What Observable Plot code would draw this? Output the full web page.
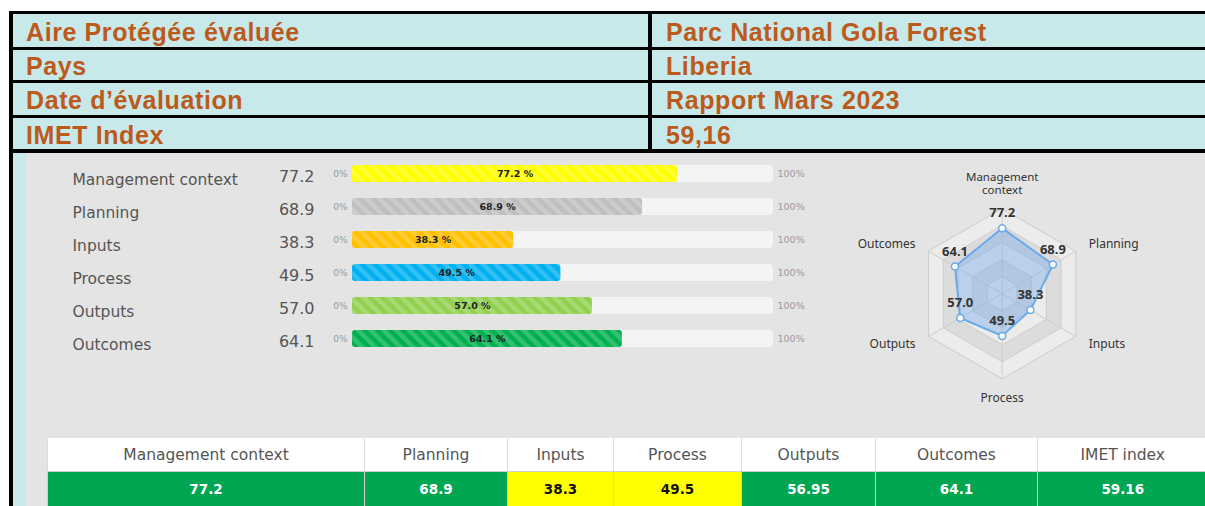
<!DOCTYPE html>
<html>
<head>
<meta charset="utf-8">
<script src="https://cdn.jsdelivr.net/npm/d3@7"></script>
<script src="https://cdn.jsdelivr.net/npm/@observablehq/plot@0.6"></script>
<style>
  html, body { margin: 0; padding: 0; background: #fff; }
  #page { position: relative; width: 1205px; height: 506px; overflow: hidden; background: #fff; }
  .abs { position: absolute; }
  .hcell { position: absolute; background: #c8e9ea; color: #bc5a1c; font-family: "Liberation Sans", Arial, sans-serif;
           font-weight: bold; font-size: 25px; line-height: 1;
           letter-spacing: 0.6px; display: flex; align-items: center; box-sizing: border-box; padding-top: 3px; white-space: nowrap; }
  #scoreTable { position: absolute; left: 47px; top: 438px; border-collapse: collapse; table-layout: fixed;
                font-family: "DejaVu Sans", sans-serif; }
  #scoreTable th { background: #fff; color: #555; font-weight: normal; font-size: 15.5px; height: 33px; padding: 0;
                   border-left: 1px solid #dcdcdc; border-bottom: 1px solid #cfcfcf; text-align: center; }
  #scoreTable td { font-weight: bold; font-size: 13.5px; height: 34px; padding: 0; text-align: center;
                   border-left: 1px solid #d0d0d0; }
</style>
</head>
<body>
<div id="page"></div>
<script>
// ---------- data ----------
const headerLabels = ["Aire Protégée évaluée", "Pays", "Date d’évaluation", "IMET Index"];
const headerValues = ["Parc National Gola Forest", "Liberia", "Rapport Mars 2023", "59,16"];
const categories = ["Management context", "Planning", "Inputs", "Process", "Outputs", "Outcomes"];
const scores = [77.2, 68.9, 38.3, 49.5, 57.0, 64.1];
const barColors = ["#ffff00", "#bfbfbf", "#ffc000", "#00b0f0", "#92d050", "#00b050"];
const radarLevels = [100, 80, 60, 40, 20];
const tableHeaders = ["Management context", "Planning", "Inputs", "Process", "Outputs", "Outcomes", "IMET index"];
const tableValues = [77.2, 68.9, 38.3, 49.5, 56.95, 64.1, 59.16];

// ---------- layout ----------
const page = document.getElementById("page");
function box(left, top, width, height, bg) {
  const d = document.createElement("div");
  d.className = "abs";
  Object.assign(d.style, {left: left + "px", top: top + "px", width: width + "px", height: height + "px", background: bg});
  page.appendChild(d);
  return d;
}
// black frame, cyan strip, grey panel
box(9, 11, 1196, 495, "#000");
box(13, 153, 12, 353, "#c8e9ea");
box(25, 153, 1180, 353, "#e4e4e4");

// header table
const rowTops = [14, 50, 83, 118];
const rowHeights = [33, 30, 32, 31];
headerLabels.forEach((lab, i) => {
  const a = document.createElement("div");
  a.className = "hcell";
  Object.assign(a.style, {left: "13px", top: rowTops[i] + "px", width: "635px", height: rowHeights[i] + "px", paddingLeft: "13px"});
  a.textContent = lab;
  page.appendChild(a);
  const b = document.createElement("div");
  b.className = "hcell";
  Object.assign(b.style, {left: "652px", top: rowTops[i] + "px", width: "560px", height: rowHeights[i] + "px", paddingLeft: "14px"});
  b.textContent = headerValues[i];
  page.appendChild(b);
});

// stripe pattern
const defs = document.createElementNS("http://www.w3.org/2000/svg", "svg");
defs.setAttribute("width", 0); defs.setAttribute("height", 0);
defs.style.position = "absolute";
defs.innerHTML = `<defs><pattern id="stripes" width="9" height="9" patternUnits="userSpaceOnUse" patternTransform="rotate(-45)">
  <rect x="0" y="0" width="4.5" height="9" fill="#ffffff" fill-opacity="0.2"/></pattern></defs>`;
page.appendChild(defs);

// ---------- bar chart ----------
const barData = categories.map((c, i) => ({category: c, score: scores[i], color: barColors[i]}));
const barPlot = Plot.plot({
  width: 800, height: 215,
  marginLeft: 327, marginRight: 52, marginTop: 3.4, marginBottom: 12.4,
  x: {domain: [0, 100], axis: null},
  y: {domain: categories, axis: null, paddingInner: 0.5, paddingOuter: 0.25},
  color: {type: "identity"},
  style: {background: "transparent", overflow: "visible", fontFamily: "DejaVu Sans, sans-serif"},
  marks: [
    Plot.barX(barData, {y: "category", x1: 0, x2: 100, fill: "#f4f4f4", rx: 4}),
    Plot.barX(barData, {y: "category", x1: 0, x2: "score", fill: "color", rx: 3}),
    Plot.barX(barData, {y: "category", x1: 0, x2: "score", fill: "url(#stripes)", rx: 3}),
    Plot.text(barData, {y: "category", x: d => d.score / 2, text: d => `${d.score.toFixed(1)} %`, fontSize: 9.5, fontWeight: "bold", fill: "#222"}),
    Plot.text(barData, {y: "category", x: 0, text: () => "0%", textAnchor: "end", dx: -5, fontSize: 9, fill: "#9a9a9a"}),
    Plot.text(barData, {y: "category", x: 100, text: () => "100%", textAnchor: "start", dx: 4, fontSize: 9.5, fill: "#9a9a9a"}),
    Plot.text(barData, {y: "category", x: 0, text: d => d.score.toFixed(1), textAnchor: "end", dx: -38, dy: 3, fontSize: 16, fill: "#555"}),
    Plot.text(barData, {y: "category", x: 0, text: "category", textAnchor: "start", dx: -280, dy: 6, fontSize: 15.5, fill: "#555"})
  ]
});
const barWrap = box(25, 153, 800, 215, "transparent");
barWrap.appendChild(barPlot);

// ---------- radar ----------
const R = 10;          // degrees of latitude for 100 %
const K = 1.45;        // frame is larger than the 100 % ring so the axis labels are not clipped
const lonOf = i => 180 - i * 60;
const radarData = categories.map((c, i) => ({category: c, score: scores[i], lon: lonOf(i), lat: 90 - scores[i] / 100 * R}));
const ringData = radarLevels.flatMap((lv, k) => categories.map((c, i) => ({
  level: lv, lon: lonOf(i), lat: 90 - lv / 100 * R, fill: k % 2 === 0 ? "#ececec" : "#dcdcdc"})));
const labR = 90 - R * 100 / 85;
const labelData = categories.map((c, i) => ({category: c, i, lon: lonOf(i), lat: labR}));
const labelFont = {fontSize: 12, fill: "#333"};
const half = 85 * K, cx = 176.7, cy = 140.3;
const radarPlot = Plot.plot({
  width: 380, height: 267,
  marginLeft: cx - half, marginRight: 380 - (cx + half), marginTop: cy - half, marginBottom: 267 - (cy + half),
  projection: {type: "azimuthal-equidistant", rotate: [0, -90], domain: d3.geoCircle().center([0, 90]).radius(R * K)()},
  color: {type: "identity"},
  style: {background: "transparent", overflow: "visible", fontFamily: "Noto Sans, sans-serif"},
  marks: [
    Plot.line(ringData, {x: "lon", y: "lat", z: "level", fill: "fill", stroke: "#cdcdcd", strokeWidth: 1, curve: "linear-closed"}),
    Plot.link(radarData, {x1: "lon", y1: 90, x2: "lon", y2: 90 - R, stroke: "#cdcdcd", strokeWidth: 1}),
    Plot.line(radarData, {x: "lon", y: "lat", curve: "linear-closed", fill: "#70a8ec", fillOpacity: 0.4, stroke: "#6aaae8", strokeWidth: 2}),
    Plot.dot(radarData, {x: "lon", y: "lat", r: 3.5, fill: "#fff", stroke: "#6aaae8", strokeWidth: 1.5}),
    Plot.text(radarData, {x: "lon", y: "lat", text: d => d.score.toFixed(1), dy: -15, fontSize: 13, fontWeight: "bold", fill: "#333"}),
    Plot.text(labelData.filter(d => d.i === 0), {x: "lon", y: "lat", text: () => "Management\ncontext", lineAnchor: "bottom", lineHeight: 1.12, fontSize: 11.5, fill: "#333"}),
    Plot.text(labelData.filter(d => d.i === 3), {x: "lon", y: "lat", text: "category", dy: 4, ...labelFont}),
    Plot.text(labelData.filter(d => d.i === 1 || d.i === 2), {x: "lon", y: "lat", text: "category", textAnchor: "start", ...labelFont}),
    Plot.text(labelData.filter(d => d.i === 4 || d.i === 5), {x: "lon", y: "lat", text: "category", textAnchor: "end", ...labelFont})
  ]
});
const radarWrap = box(825, 153, 380, 267, "transparent");
radarWrap.appendChild(radarPlot);

// ---------- score table ----------
const colWidths = [317, 143, 106, 128, 134, 162, 170];
const table = document.createElement("table");
table.id = "scoreTable";
table.style.width = d3.sum(colWidths) + "px";
const cg = document.createElement("colgroup");
colWidths.forEach(w => { const c = document.createElement("col"); c.style.width = w + "px"; cg.appendChild(c); });
table.appendChild(cg);
const trH = document.createElement("tr");
tableHeaders.forEach(h => { const th = document.createElement("th"); th.textContent = h; trH.appendChild(th); });
const trD = document.createElement("tr");
tableValues.forEach(v => {
  const td = document.createElement("td");
  td.textContent = String(v);
  const low = v < 50;
  td.style.background = low ? "#ffff00" : "#00a651";
  td.style.color = low ? "#111" : "#fff";
  trD.appendChild(td);
});
table.appendChild(trH); table.appendChild(trD);
page.appendChild(table);
</script>
</body>
</html>
